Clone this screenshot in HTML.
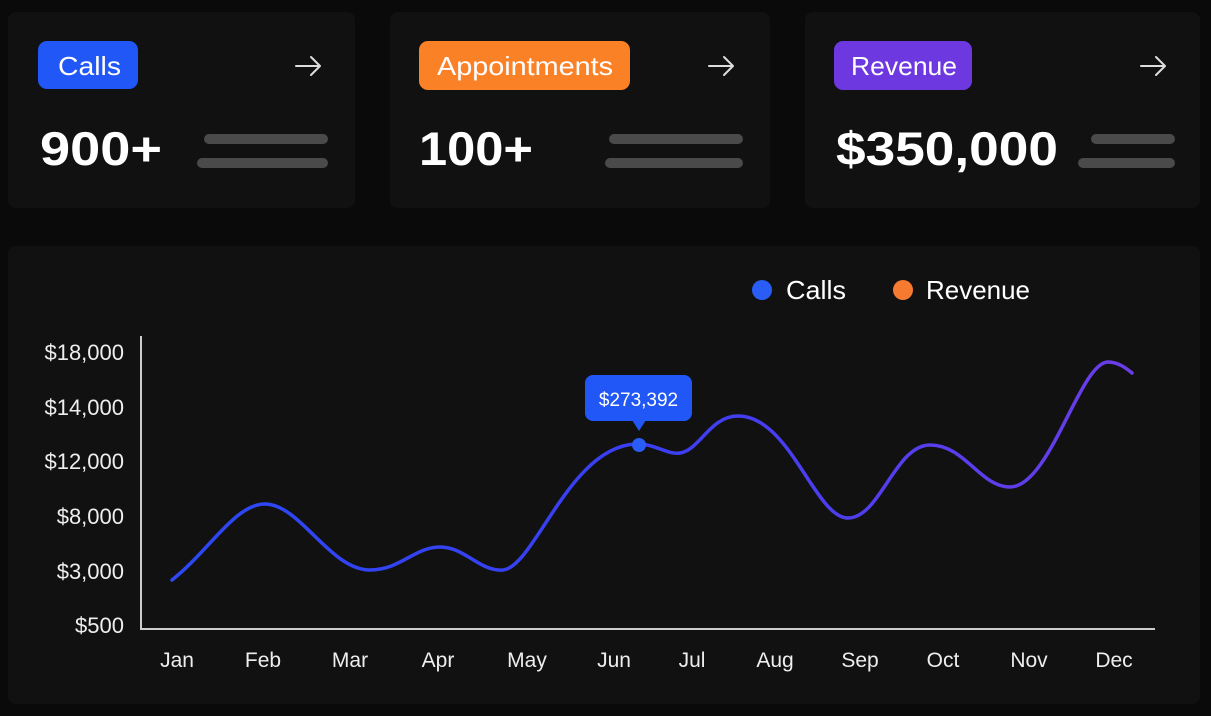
<!DOCTYPE html>
<html><head><meta charset="utf-8"><style>
html,body{margin:0;padding:0;background:#0a0a0a;}
svg{display:block;font-family:"Liberation Sans",sans-serif;}
</style></head><body>
<svg width="1211" height="716" viewBox="0 0 1211 716" xmlns="http://www.w3.org/2000/svg">
<defs>
<linearGradient id="g" x1="172" y1="0" x2="1132" y2="0" gradientUnits="userSpaceOnUse">
<stop offset="0" stop-color="#2b48f3"/><stop offset="0.5" stop-color="#3b3ef2"/><stop offset="1" stop-color="#6b3de8"/>
</linearGradient>
</defs>
<rect width="1211" height="716" fill="#0a0a0a"/>
<rect x="8" y="12" width="347" height="196" rx="8" fill="#111111"/>
<rect x="390" y="12" width="380" height="196" rx="8" fill="#111111"/>
<rect x="805" y="12" width="395" height="196" rx="8" fill="#111111"/>
<rect x="8" y="246" width="1192" height="458" rx="8" fill="#111111"/>

<rect x="38" y="41" width="100" height="48" rx="9" fill="#2157f6"/>
<text x="58" y="75" font-size="26" fill="#fff" textLength="63" lengthAdjust="spacingAndGlyphs">Calls</text>
<rect x="419" y="41" width="211" height="49" rx="9" fill="#fb8127"/>
<text x="437" y="75" font-size="26" fill="#fff" textLength="176" lengthAdjust="spacingAndGlyphs">Appointments</text>
<rect x="834" y="41" width="138" height="49" rx="9" fill="#6d38df"/>
<text x="851" y="75" font-size="26" fill="#fff" textLength="106" lengthAdjust="spacingAndGlyphs">Revenue</text>

<g stroke="#ddd" stroke-width="2" fill="none" stroke-linecap="round" stroke-linejoin="round">
<path d="M296 66 H320 M311 57 L320 66 L311 75"/>
<path d="M709 66 H733 M724 57 L733 66 L724 75"/>
<path d="M1141 66 H1165 M1156 57 L1165 66 L1156 75"/>
</g>

<g font-size="47" fill="#fff" font-weight="bold">
<text x="40" y="165" textLength="122" lengthAdjust="spacingAndGlyphs">900+</text>
<text x="419" y="165" textLength="114" lengthAdjust="spacingAndGlyphs">100+</text>
<text x="836" y="165" textLength="222" lengthAdjust="spacingAndGlyphs">$350,000</text>
</g>
<g stroke="#4a4a4a" stroke-width="10" stroke-linecap="round">
<line x1="209" y1="139" x2="323" y2="139"/><line x1="202" y1="163" x2="323" y2="163"/>
<line x1="614" y1="139" x2="738" y2="139"/><line x1="610" y1="163" x2="738" y2="163"/>
<line x1="1096" y1="139" x2="1170" y2="139"/><line x1="1083" y1="163" x2="1170" y2="163"/>
</g>

<circle cx="762" cy="290" r="10" fill="#2a5cf6"/>
<text x="786" y="299" font-size="26" fill="#fff" textLength="60" lengthAdjust="spacingAndGlyphs">Calls</text>
<circle cx="903" cy="290" r="10" fill="#f67a30"/>
<text x="926" y="299" font-size="26" fill="#fff" textLength="104" lengthAdjust="spacingAndGlyphs">Revenue</text>

<line x1="141" y1="336" x2="141" y2="630" stroke="#ccc" stroke-width="2"/>
<line x1="140" y1="629" x2="1155" y2="629" stroke="#ccc" stroke-width="2"/>
<g font-size="22" fill="#eee" text-anchor="end">
<text x="124" y="360">$18,000</text>
<text x="124" y="415">$14,000</text>
<text x="124" y="469">$12,000</text>
<text x="124" y="524">$8,000</text>
<text x="124" y="579">$3,000</text>
<text x="124" y="633">$500</text>
</g>
<g font-size="21" fill="#eee" text-anchor="middle">
<text x="177" y="667">Jan</text><text x="263" y="667">Feb</text><text x="350" y="667">Mar</text>
<text x="438" y="667">Apr</text><text x="527" y="667">May</text><text x="614" y="667">Jun</text>
<text x="692" y="667">Jul</text><text x="775" y="667">Aug</text><text x="860" y="667">Sep</text>
<text x="943" y="667">Oct</text><text x="1029" y="667">Nov</text><text x="1114" y="667">Dec</text>
</g>

<path d="M172,580 C210,550 235,504 265,504 C300,504 330,570 370,570 C400,570 415,547 440,547 C465,547 480,572 503,570 C535,567 570,444 638,444 C655,444 668,455 680,453 C700,450 710,416 738,416 C790,416 815,518 848,518 C880,518 895,445 930,445 C965,445 980,487 1010,487 C1050,487 1080,362 1108,362 C1118,362 1126,368 1132,373" fill="none" stroke="url(#g)" stroke-width="3.5" stroke-linecap="round"/>
<circle cx="639" cy="445" r="7" fill="#2a5cf6"/>
<rect x="585" y="375" width="107" height="46" rx="8" fill="#2157f6"/>
<path d="M632 420 L646 420 L639 431 Z" fill="#2157f6"/>
<text x="638.5" y="406" font-size="19" fill="#fff" text-anchor="middle">$273,392</text>
</svg>
</body></html>
